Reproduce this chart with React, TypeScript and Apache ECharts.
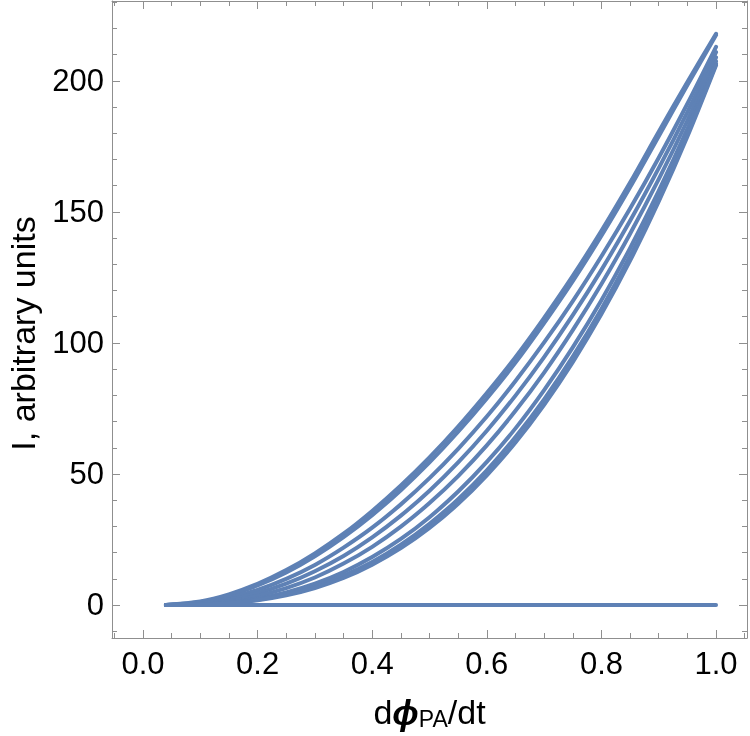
import React, { useEffect, useRef } from "react";
import * as echarts from "echarts";

const xs = [0.04, 0.1, 0.15, 0.2, 0.25, 0.3, 0.35, 0.4, 0.45, 0.5, 0.55, 0.6, 0.65, 0.7, 0.75, 0.8, 0.85, 0.9, 0.95, 1.0];

const curve1 = [0, 1.33, 4.05, 8.07, 13.3, 19.7, 27.2, 35.9, 45.6, 56.3, 68.1, 80.9, 94.6, 109.6, 125.6, 142.8, 161.2, 180.6, 199.6, 218.0];
const curve2 = [0, 1.17, 3.67, 7.44, 12.4, 18.6, 25.9, 34.3, 43.8, 54.4, 66.1, 78.8, 92.5, 107.6, 123.6, 140.9, 159.4, 178.9, 198.4, 217.5];
const curve3 = [0, 0.80, 2.71, 5.77, 9.98, 15.3, 21.9, 29.5, 38.4, 48.4, 59.6, 71.9, 85.5, 100.2, 116.0, 133.1, 151.3, 170.7, 191.3, 213.0];
const curve4 = [0, 0.56, 2.04, 4.54, 8.14, 12.9, 18.7, 25.8, 34.1, 43.6, 54.4, 66.5, 79.9, 94.6, 110.6, 127.9, 146.6, 166.7, 188.1, 211.0];
const curve5 = [0, 0.37, 1.47, 3.47, 6.47, 10.5, 15.8, 22.2, 29.9, 38.9, 49.2, 60.9, 74.1, 88.7, 104.9, 122.5, 141.7, 162.5, 184.9, 209.0];
const curve6 = [0, 0.22, 0.97, 2.45, 4.80, 8.15, 12.6, 18.3, 25.2, 33.5, 43.3, 54.6, 67.4, 82.0, 98.3, 116.3, 136.2, 158.0, 181.7, 207.5];
const curve7 = [0, 0.16, 0.77, 2.03, 4.09, 7.10, 11.2, 16.4, 23.0, 31.0, 40.4, 51.4, 64.1, 78.5, 94.8, 113.0, 133.2, 155.5, 179.9, 206.5];
const curve8 = [0, 0.13, 0.67, 1.80, 3.69, 6.49, 10.3, 15.4, 21.7, 29.4, 38.6, 49.5, 62.0, 76.4, 92.7, 111.0, 131.4, 154.0, 178.8, 206.0];
const zeroLine = [0, 0, 0, 0, 0, 0, 0, 0, 0, 0, 0, 0, 0, 0, 0, 0, 0, 0, 0, 0];

const curves = [curve1, curve2, curve3, curve4, curve5, curve6, curve7, curve8, zeroLine];

const xMajorTicks = [0, 0.2, 0.4, 0.6, 0.8, 1.0];
const xMinorTicks = [-0.05, 0, 0.05, 0.1, 0.15, 0.2, 0.25, 0.3, 0.35, 0.4, 0.45, 0.5, 0.55, 0.6, 0.65, 0.7, 0.75, 0.8, 0.85, 0.9, 0.95, 1.0, 1.05];
const yMajorTicks = [0, 50, 100, 150, 200];
const yMinorTicks = [-10, 0, 10, 20, 30, 40, 50, 60, 70, 80, 90, 100, 110, 120, 130, 140, 150, 160, 170, 180, 190, 200, 210, 220, 230];

const X_MIN = -0.054;
const X_MAX = 1.054;
const Y_MIN = -12.6;
const Y_MAX = 230.5;

const FRAME = "#8f8f8f";
const LINE = "#5E81B5";
const FONT = "Liberation Sans, Arial, sans-serif";

export default function App() {
  const ref = useRef<HTMLDivElement>(null);
  useEffect(() => {
    if (!ref.current) return;
    const chart = echarts.init(ref.current, undefined, { renderer: "svg" });

    const mkX = (position: "bottom" | "top", ticks: number[], len: number, labels: boolean, line: boolean, name?: string) => ({
      type: "value",
      gridIndex: 0,
      position,
      min: X_MIN,
      max: X_MAX,
      name: name,
      nameLocation: "middle",
      nameGap: 56,
      nameTextStyle: {
        color: "#000",
        fontFamily: FONT,
        fontSize: 34,
        rich: {
          n: { fontSize: 34, lineHeight: 36, verticalAlign: "middle", fontFamily: FONT, color: "#000" },
          phi: { fontSize: 35, lineHeight: 36, verticalAlign: "middle", fontStyle: "italic", fontWeight: "bold", fontFamily: FONT, color: "#000" },
          sub: { fontSize: 23, lineHeight: 20, verticalAlign: "bottom", fontFamily: FONT, color: "#000" },
        },
      },
      axisLine: { show: line, onZero: false, lineStyle: { color: FRAME, width: 1 } },
      axisTick: { show: true, inside: true, length: len, customValues: ticks, lineStyle: { color: FRAME, width: 1 } },
      axisLabel: labels
        ? { show: true, customValues: ticks, margin: 10, color: "#000", fontSize: 31, fontFamily: FONT, formatter: (v: number) => v.toFixed(1) }
        : { show: false },
      splitLine: { show: false },
    });

    const mkY = (position: "left" | "right", ticks: number[], len: number, labels: boolean, line: boolean, name?: string) => ({
      type: "value",
      gridIndex: 0,
      position,
      min: Y_MIN,
      max: Y_MAX,
      name: name,
      nameLocation: "middle",
      nameGap: 72,
      nameTextStyle: { color: "#000", fontFamily: FONT, fontSize: 34, padding: [0, 28, 0, 0] },
      axisLine: { show: line, onZero: false, lineStyle: { color: FRAME, width: 1 } },
      axisTick: { show: true, inside: true, length: len, customValues: ticks, lineStyle: { color: FRAME, width: 1 } },
      axisLabel: labels
        ? { show: true, customValues: ticks, margin: 8, color: "#000", fontSize: 31, fontFamily: FONT, formatter: (v: number) => String(v) }
        : { show: false },
      splitLine: { show: false },
    });

    chart.setOption({
      animation: false,
      grid: { left: 112, right: 3, top: 1, bottom: 98, containLabel: false, outerBoundsMode: "none" },
      xAxis: [
        mkX("bottom", xMajorTicks, 8, true, true, "{n|d}{phi|ϕ}{sub|PA}{n|/dt}"),
        mkX("bottom", xMinorTicks, 5, false, false),
        mkX("top", xMajorTicks, 8, false, true),
        mkX("top", xMinorTicks, 5, false, false),
      ],
      yAxis: [
        mkY("left", yMajorTicks, 8, true, true, "I, arbitrary units"),
        mkY("left", yMinorTicks, 5, false, false),
        mkY("right", yMajorTicks, 8, false, true),
        mkY("right", yMinorTicks, 5, false, false),
      ],
      series: curves.map((c, i) => ({
        type: "line",
        name: "c" + i,
        xAxisIndex: 0,
        yAxisIndex: 0,
        data: xs.map((x, j) => [x, c[j]]),
        showSymbol: false,
        smooth: 0.3,
        lineStyle: { color: LINE, width: 4, cap: "round", join: "round" },
        itemStyle: { color: LINE },
        emphasis: { disabled: true },
      })),
    });
    return () => chart.dispose();
  }, []);
  return <div ref={ref} style={{ position: "fixed", left: 0, top: 0, width: 750, height: 736 }} />;
}
